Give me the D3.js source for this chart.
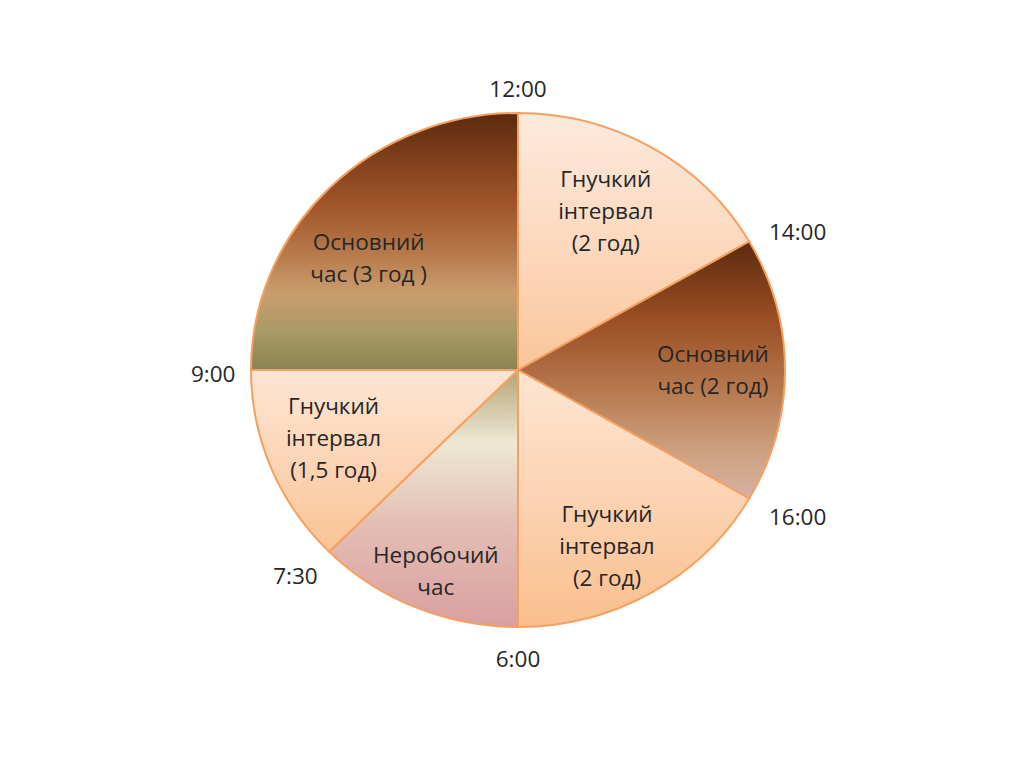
<!DOCTYPE html>
<html>
<head>
<meta charset="utf-8">
<script src="https://cdn.jsdelivr.net/npm/d3@7"></script>
<style>
  html, body { margin: 0; padding: 0; background: #ffffff; }
  svg { display: block; }
  text { font-family: "Open Sans", "Noto Sans", sans-serif; fill: #262626; }
</style>
</head>
<body>
<svg id="chart" width="1024" height="768"></svg>
<script>
// ---- data ----
const categories = [
  "Гнучкий інтервал (2 год)",
  "Основний час (2 год)",
  "Гнучкий інтервал (2 год)",
  "Неробочий час",
  "Гнучкий інтервал (1,5 год)",
  "Основний час (3 год )"
];
const labelLines = [
  ["Гнучкий", "інтервал", "(2 год)"],
  ["Основний", "час (2 год)"],
  ["Гнучкий", "інтервал", "(2 год)"],
  ["Неробочий", "час"],
  ["Гнучкий", "інтервал", "(1,5 год)"],
  ["Основний", "час (3 год )"]
];
const values = [2, 2, 2, 1.5, 1.5, 3];
const tickLabels = ["12:00", "14:00", "16:00", "6:00", "7:30", "9:00"];
const sliceKinds = ["flex", "core", "flex2", "off", "flex3", "core2"];

// ---- layout ----
const svg = d3.select("#chart");
const cx = 518, cy = 370;
const R = 257;          // vertical radius
const sx = 267 / 257;   // horizontal stretch (slightly elliptical)

// label placement tweaks per slice: [radius fraction, angle shift in degrees]
const labelPlace = [[0.70, -2], [0.73, 0], [0.76, 4], [0.84, -1], [0.74, 1.5], [0.71, -7]];

const defs = svg.append("defs");
function grad(id, stops) {
  const g = defs.append("linearGradient").attr("id", id)
    .attr("x1", 0).attr("y1", 0).attr("x2", 0).attr("y2", 1);
  stops.forEach(s => g.append("stop").attr("offset", s[0]).attr("stop-color", s[1]));
}
grad("flex",  [[0, "#FDEADC"], [0.5, "#FCD9BF"], [1, "#FAC599"]]);
grad("flex2", [[0, "#FDE6D3"], [0.5, "#FCD3B3"], [1, "#FABF8D"]]);
grad("flex3", [[0, "#FDE6D4"], [0.5, "#FCD5B6"], [1, "#FAC395"]]);
grad("core",  [[0, "#5C2A0E"], [0.3, "#9A4E24"], [0.55, "#B5744A"], [0.8, "#CC9E7C"], [1, "#D6B3A6"]]);
grad("core2", [[0, "#5C2A0E"], [0.35, "#A0542A"], [0.55, "#B77A4C"], [0.7, "#CB9C6E"], [0.85, "#A99A66"], [1, "#8A8350"]]);
grad("off",   [[0, "#B5A374"], [0.28, "#EDE8D4"], [0.6, "#E4BEB4"], [1, "#D99F9F"]]);

const pie = d3.pie().sort(null).value(d => d).startAngle(0).endAngle(2 * Math.PI);
const arcs = pie(values);
const arc = d3.arc().innerRadius(0).outerRadius(R);

const g = svg.append("g").attr("transform", `translate(${cx},${cy})`);
const slices = g.append("g").attr("transform", `scale(${sx},1)`);

slices.selectAll("path")
  .data(arcs)
  .join("path")
  .attr("d", arc)
  .attr("fill", (d, i) => `url(#${sliceKinds[i]})`)
  .attr("stroke", "#F5A060")
  .attr("stroke-width", 2)
  .attr("vector-effect", "non-scaling-stroke");

// slice labels
const fs = 22.5, lh = 32;
arcs.forEach((d, i) => {
  const [k, dA] = labelPlace[i];
  const la = d3.arc().innerRadius(R * k).outerRadius(R * k);
  const mid = (d.startAngle + d.endAngle) / 2 + dA * Math.PI / 180;
  const [x, y] = la.centroid({startAngle: mid, endAngle: mid});
  const lines = labelLines[i];
  const t = g.append("text")
    .attr("text-anchor", "middle")
    .attr("font-size", fs);
  lines.forEach((ln, j) => {
    t.append("tspan")
      .attr("x", x * sx)
      .attr("y", y + (j - (lines.length - 1) / 2) * lh)
      .attr("dy", "0.36em")
      .text(ln);
  });
});

// time labels at slice boundaries
const pad = 20;
arcs.forEach((d, i) => {
  const a = d.startAngle;
  const s = Math.sin(a), c = Math.cos(a);
  const t = g.append("text")
    .attr("font-size", fs)
    .attr("text-anchor", "middle")
    .attr("dy", "0.36em")
    .text(tickLabels[i]);
  const bb = t.node().getBBox();
  const w = bb.width, h = 16;
  const x = (R * sx + pad) * s + (w / 2) * s * (Math.abs(s) > 0.99 ? 0.8 : 1.25);
  const y = -(R + pad) * c - (h / 2) * c + 4;
  t.attr("x", x).attr("y", y);
});
</script>
</body>
</html>
